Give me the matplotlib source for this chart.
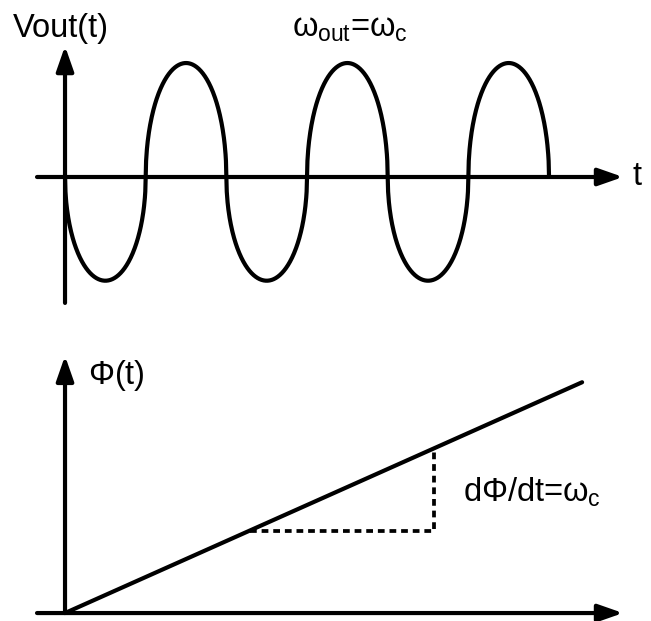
import numpy as np
import matplotlib
matplotlib.use("Agg")
import matplotlib.pyplot as plt

plt.rcParams['font.family'] = ['Liberation Sans', 'DejaVu Sans']
plt.rcParams['mathtext.fontset'] = 'custom'
plt.rcParams['mathtext.rm'] = 'Liberation Sans'
plt.rcParams['mathtext.it'] = 'Liberation Sans'

# Vout(t): zero crossings (half periods) and signed lobe heights
crossings = [0, 1, 2, 3, 4, 5, 6]
lobe_amp = [-0.91, 1.0, -0.91, 1.0, -0.91, 1.0]

# Phi(t): straight ramp, and the slope triangle
phi_t = [0.0, 6.41]
phi_v = [0.0, 2.87]
tri_t = [2.29, 4.57]

LW = 3.0
FS = 23.5

fig = plt.figure(figsize=(6.51, 6.21), dpi=100)
ax1 = fig.add_axes([0, 0.5008, 1, 0.4992])
ax2 = fig.add_axes([0, 0, 1, 0.4992])

def arrow(ax, x0, y0, x1, y1):
    ax.annotate('', xy=(x1, y1), xytext=(x0, y0),
                arrowprops=dict(arrowstyle='-|>,head_length=1.0,head_width=0.35',
                                mutation_scale=15, lw=LW, color='black',
                                shrinkA=0, shrinkB=0))

# ---- top: output voltage ----
ax1.set_xlim(-0.806, 7.264)
ax1.set_ylim(-1.167, 1.553)
ax1.axis('off')

arrow(ax1, -0.347, 0, 6.917, 0)
arrow(ax1, 0, -1.105, 0, 1.149)

u = np.linspace(-1, 1, 200)
for i, a in enumerate(lobe_amp):
    c0, c1 = crossings[i], crossings[i + 1]
    tt = (c0 + c1) / 2 + u * (c1 - c0) / 2
    ax1.plot(tt, a * np.sqrt(1 - u ** 2), color='black', lw=LW,
             solid_capstyle='butt')

ax1.text(-0.645, 1.228, 'Vout(t)', fontsize=FS, ha='left', va='baseline')
ax1.text(3.53, 1.228, r'$\omega_{\mathrm{out}}$=$\omega_{\mathrm{c}}$',
         fontsize=FS, ha='center', va='baseline')
ax1.text(7.04, -0.07, 't', fontsize=FS, ha='left', va='baseline')

# ---- bottom: phase ----
ax2.set_xlim(-0.806, 7.264)
ax2.set_ylim(-0.099, 3.756)
ax2.axis('off')

arrow(ax2, -0.347, 0, 6.917, 0)
arrow(ax2, 0, 0, 0, 3.198)

ax2.plot(phi_t, phi_v, color='black', lw=LW, solid_capstyle='round')

p0, p1 = np.interp(tri_t, phi_t, phi_v)
ax2.plot([tri_t[0], tri_t[1], tri_t[1]], [p0, p0, p1], color='black',
         lw=2.7, linestyle=(0, (1.8, 1.3)))

ax2.text(0.285, 2.851, r'$\Phi$(t)', fontsize=FS, ha='left', va='baseline')
ax2.text(4.93, 1.388, r'd$\Phi$/dt=$\omega_{\mathrm{c}}$', fontsize=FS,
         ha='left', va='baseline')

fig.savefig('out.png', dpi=100)
